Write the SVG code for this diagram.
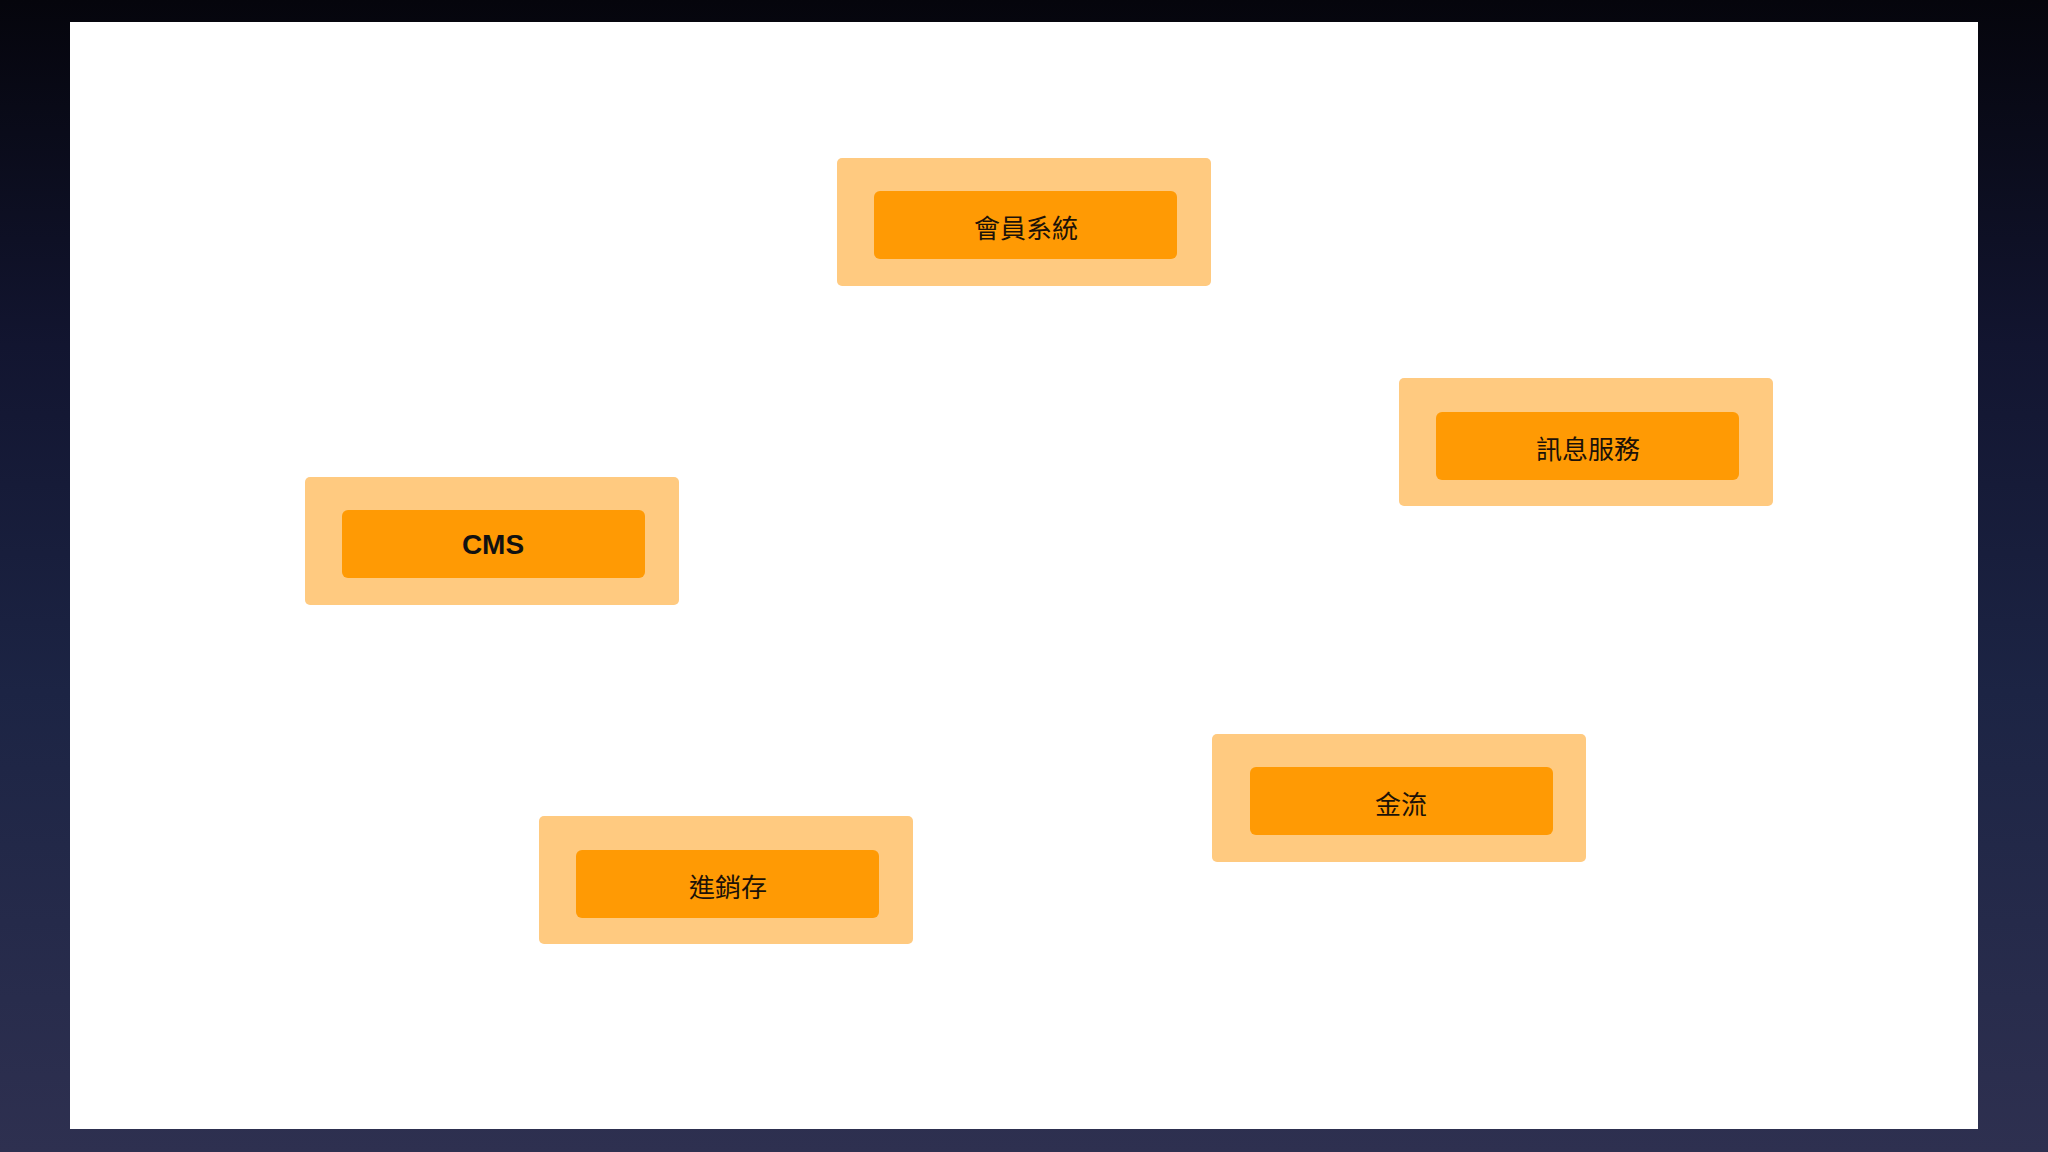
<svg xmlns="http://www.w3.org/2000/svg" width="2048" height="1152" viewBox="0 0 2048 1152">
<defs>
<linearGradient id="bg" x1="0" y1="0" x2="0" y2="1">
<stop offset="0" stop-color="#05050c"/>
<stop offset="0.3" stop-color="#121530"/>
<stop offset="0.6" stop-color="#1c2444"/>
<stop offset="1" stop-color="#2e3050"/>
</linearGradient>
<style>
.outer{fill:#ffca80}
.inner{fill:#ff9a04}
.lbl{font-family:"Liberation Sans","Noto Sans CJK TC",sans-serif;font-size:26px;fill:#1c1208;text-anchor:middle}
.bold{font-weight:bold;font-size:28px;fill:#111}
</style>
</defs>
<rect width="2048" height="1152" fill="url(#bg)"/>
<rect x="70" y="22" width="1908" height="1107" fill="#ffffff"/>
<g id="connectors"></g>
<g id="member">
<rect class="outer" x="837" y="158" width="374" height="128" rx="5"/>
<rect class="inner" x="874" y="191" width="303" height="68" rx="6"/>
<text class="lbl" x="1026" y="238">會員系統</text>
</g>
<g id="message">
<rect class="outer" x="1399" y="378" width="374" height="128" rx="5"/>
<rect class="inner" x="1436" y="412" width="303" height="68" rx="6"/>
<text class="lbl" x="1588" y="459">訊息服務</text>
</g>
<g id="cms">
<rect class="outer" x="305" y="477" width="374" height="128" rx="5"/>
<rect class="inner" x="342" y="510" width="303" height="68" rx="6"/>
<text class="lbl bold" x="493" y="554">CMS</text>
</g>
<g id="payment">
<rect class="outer" x="1212" y="734" width="374" height="128" rx="5"/>
<rect class="inner" x="1250" y="767" width="303" height="68" rx="6"/>
<text class="lbl" x="1401" y="814">金流</text>
</g>
<g id="inventory">
<rect class="outer" x="539" y="816" width="374" height="128" rx="5"/>
<rect class="inner" x="576" y="850" width="303" height="68" rx="6"/>
<text class="lbl" x="728" y="897">進銷存</text>
</g>
</svg>
